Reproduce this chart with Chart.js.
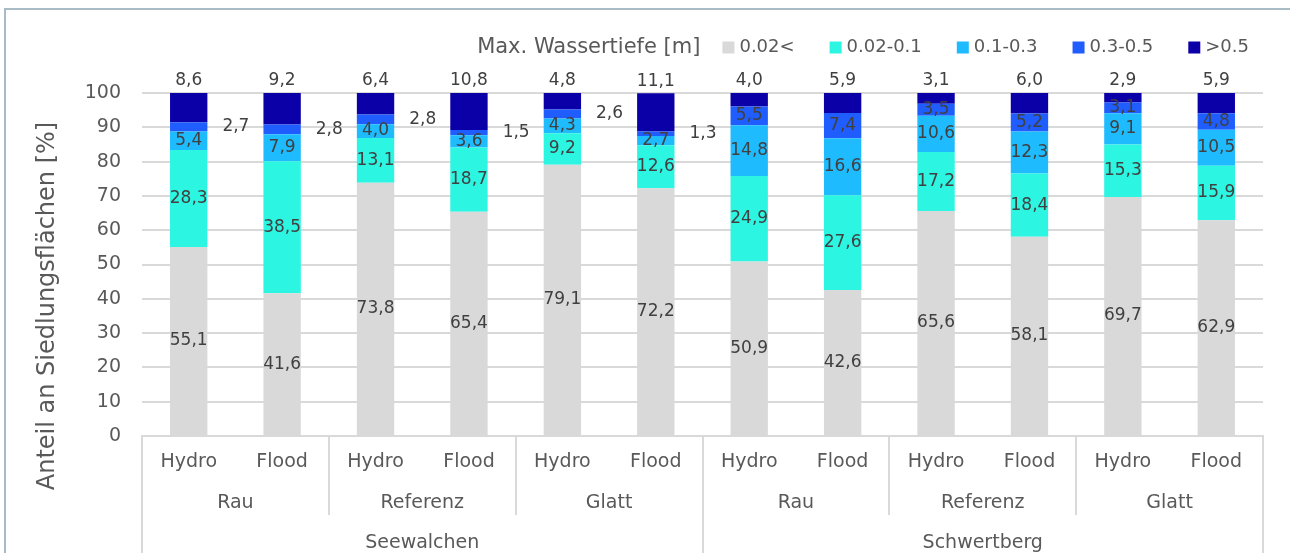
<!DOCTYPE html>
<html>
<head>
<meta charset="utf-8">
<script src="https://cdn.jsdelivr.net/npm/chart.js@4.4.1/dist/chart.umd.min.js"></script>
<style>
  body { margin: 0; background: #fff; overflow: hidden; }
  #myChart { position: absolute; left: 0; top: 0; }
</style>
</head>
<body>
<canvas id="myChart" width="1290" height="553"></canvas>
<script>
// categories (three levels)
var models = ["Hydro", "Flood", "Hydro", "Flood", "Hydro", "Flood",
              "Hydro", "Flood", "Hydro", "Flood", "Hydro", "Flood"];
var roughness = ["Rau", "Referenz", "Glatt", "Rau", "Referenz", "Glatt"];
var sites = ["Seewalchen", "Schwertberg"];

// share of settlement area per max. water depth [%]
var seriesNames = ["0.02<", "0.02-0.1", "0.1-0.3", "0.3-0.5", ">0.5"];
var depth1 = [55.1, 41.6, 73.8, 65.4, 79.1, 72.2, 50.9, 42.6, 65.6, 58.1, 69.7, 62.9];
var depth2 = [28.3, 38.5, 13.1, 18.7, 9.2, 12.6, 24.9, 27.6, 17.2, 18.4, 15.3, 15.9];
var depth3 = [5.4, 7.9, 4.0, 3.6, 4.3, 2.7, 14.8, 16.6, 10.6, 12.3, 9.1, 10.5];
var depth4 = [2.7, 2.8, 2.8, 1.5, 2.6, 1.3, 5.5, 7.4, 3.5, 5.2, 3.1, 4.8];
var depth5 = [8.6, 9.2, 6.4, 10.8, 4.8, 11.1, 4.0, 5.9, 3.1, 6.0, 2.9, 5.9];
var yTicks = [0, 10, 20, 30, 40, 50, 60, 70, 80, 90, 100];

var barColors = ["#d9d9d9", "#2cf5e2", "#1fbbff", "#1f5dff", "#0b00a8"];
var FONT = "'DejaVu Sans', sans-serif";
var textGrey = "#595959";
var lineGrey = "#d9d9d9";

var allSeries = [depth1, depth2, depth3, depth4, depth5];

// chart frame (only left and top edge are in view)
var framePlugin = {
    id: "frame",
    beforeDraw(chart) {
        var ctx = chart.ctx;
        ctx.save();
        ctx.strokeStyle = "#a9bcc5";
        ctx.lineWidth = 2;
        ctx.beginPath();
        ctx.moveTo(5, chart.height);
        ctx.lineTo(5, 9);
        ctx.lineTo(chart.width, 9);
        ctx.stroke();
        ctx.restore();
    }
};

// value labels on the bar segments
var labelPlugin = {
    id: "valueLabels",
    afterDatasetsDraw(chart) {
        var ctx = chart.ctx;
        ctx.save();
        ctx.font = "17px " + FONT;
        ctx.fillStyle = "#404040";
        ctx.textBaseline = "middle";
        chart.data.datasets.forEach((ds, i) => {
            var meta = chart.getDatasetMeta(i);
            meta.data.forEach((bar, j) => {
                var v = ds.data[j];
                var p = bar.getProps(["x", "y", "base", "width"], true);
                var tx = p.x, ty = (p.y + p.base) / 2;
                ctx.textAlign = "center";
                if (i === chart.data.datasets.length - 1) {
                    ty = p.y - 12;
                } else if (i === 3 && v < 3) {
                    tx = p.x + p.width / 2 + 15;
                    ctx.textAlign = "left";
                }
                ctx.fillText(v.toFixed(1).replace(".", ","), tx, ty);
            });
        });
        ctx.restore();
    }
};

// grouped category axis, y title and legend
var decoPlugin = {
    id: "deco",
    afterDraw(chart) {
        var ctx = chart.ctx;
        var area = chart.chartArea;
        var step = (area.right - area.left) / models.length;
        var bottom = chart.height;
        ctx.save();
        ctx.strokeStyle = lineGrey;
        ctx.lineWidth = 2;
        // separators
        for (var k = 0; k <= models.length; k += 2) {
            var x = Math.round(area.left + k * step);
            var long = k % 6 === 0;
            ctx.beginPath();
            ctx.moveTo(x, area.bottom);
            ctx.lineTo(x, long ? bottom : 515);
            ctx.stroke();
        }
        ctx.fillStyle = textGrey;
        ctx.font = "19px " + FONT;
        ctx.textAlign = "center";
        ctx.textBaseline = "middle";
        roughness.forEach((r, g) => {
            ctx.fillText(r, area.left + (g * 2 + 1) * step, 503);
        });
        sites.forEach((s, g) => {
            ctx.fillText(s, area.left + (g * 6 + 3) * step, 543);
        });

        // y axis title
        ctx.save();
        ctx.translate(48, 306);
        ctx.rotate(-Math.PI / 2);
        ctx.font = "24px " + FONT;
        ctx.fillText("Anteil an Siedlungsflächen [%]", 0, 0);
        ctx.restore();

        // legend
        var ly = 47.5;
        var x = 1249;
        ctx.textAlign = "left";
        ctx.font = "18px " + FONT;
        for (var i = seriesNames.length - 1; i >= 0; i--) {
            var w = ctx.measureText(seriesNames[i]).width;
            x -= w;
            ctx.fillStyle = textGrey;
            ctx.fillText(seriesNames[i], x, ly);
            x -= 5 + 12;
            ctx.fillStyle = barColors[i];
            ctx.fillRect(x, ly - 6, 12, 12);
            x -= i === 0 ? 22 : 35;
        }
        ctx.fillStyle = textGrey;
        ctx.font = "21px " + FONT;
        ctx.textAlign = "right";
        ctx.fillText("Max. Wassertiefe [m]", x, ly);
        ctx.restore();
    }
};

new Chart("myChart", {
    type: "bar",
    data: {
        labels: models,
        datasets: allSeries.map((d, i) => ({
            label: seriesNames[i],
            data: d,
            backgroundColor: barColors[i],
            borderWidth: 0,
            categoryPercentage: 1,
            barPercentage: 0.4
        }))
    },
    options: {
        responsive: false,
        animation: false,
        layout: { padding: { top: 93, right: 27, left: 0, bottom: 0 } },
        plugins: {
            legend: { display: false },
            tooltip: { enabled: false }
        },
        scales: {
            x: {
                stacked: true,
                grid: { display: false, drawTicks: false },
                border: { display: true, color: lineGrey, width: 2 },
                ticks: { color: textGrey, font: { family: FONT, size: 19 }, padding: 15, maxRotation: 0 },
                afterFit: (scale) => { scale.height = 117; }
            },
            y: {
                stacked: true,
                min: 0,
                max: 100,
                afterBuildTicks: (scale) => { scale.ticks = yTicks.map(v => ({ value: v })); },
                grid: { color: lineGrey, lineWidth: 2, drawTicks: false },
                border: { display: false },
                ticks: { color: textGrey, font: { family: FONT, size: 19 }, padding: 21 },
                afterFit: (scale) => { scale.width = 142; }
            }
        }
    },
    plugins: [framePlugin, labelPlugin, decoPlugin]
});
</script>
</body>
</html>
